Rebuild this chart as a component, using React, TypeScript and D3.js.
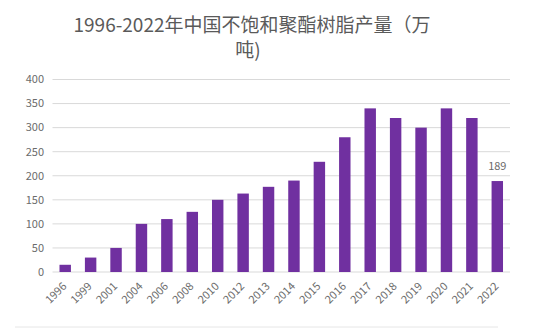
import React from "react";
import * as d3 from "d3";

const years = ["1996","1999","2001","2004","2006","2008","2010","2012","2013","2014","2015","2016","2017","2018","2019","2020","2021","2022"];
const values = [15,30,50,100,110,125,150,163,177,190,229,280,340,320,300,340,320,189];
const yTicks = [0,50,100,150,200,250,300,350,400];
const titleLines = ["1996-2022年中国不饱和聚酯树脂产量（万", "吨)"];
const labeled = ["2022"];

export default function App() {
  const W = 550, H = 330;
  const left = 52.5, right = 510, top = 79.5, bottom = 272;
  const x = d3.scaleBand().domain(years).range([left, right]).paddingInner(0.55).paddingOuter(0.275);
  const y = d3.scaleLinear().domain([0, 400]).range([bottom, top]);
  const font = "'Noto Sans CJK SC', 'Noto Sans', sans-serif";
  return (
    <svg width={W} height={H} style={{ position: "absolute", left: 0, top: 0, background: "#fff" }}>
      <rect width={W} height={H} fill="#fff" />
      {titleLines.map((t, i) => (
        <text key={i} x={i === 0 ? 252 : 248} y={i === 0 ? 32 : 57} textAnchor="middle" fontSize={19} fill="#5a5a5a" fontFamily={font}>{t}</text>
      ))}
      {yTicks.map(t => (
        <g key={t}>
          <line x1={left} x2={right} y1={y(t)} y2={y(t)} stroke="#d9d9d9" strokeWidth={1} />
          <text x={44} y={y(t)} dy="0.35em" textAnchor="end" fontSize={11} fill="#6b6b6b" fontFamily={font}>{t}</text>
        </g>
      ))}
      {years.map((yr, i) => (
        <rect key={yr} x={x(yr)} y={y(values[i])} width={x.bandwidth()} height={y(0) - y(values[i])} fill="#7030A0" />
      ))}
      {years.map(yr => {
        const cx = (x(yr) as number) + x.bandwidth() / 2 + 2;
        return (
          <text key={yr} transform={`translate(${cx},${287}) rotate(-45)`} textAnchor="end" fontSize={11} fill="#6b6b6b" fontFamily={font}>{yr}</text>
        );
      })}
      {years.map((yr, i) => labeled.includes(yr) ? (
        <text key={"l" + yr} x={(x(yr) as number) + x.bandwidth() / 2} y={y(values[i]) - 11} textAnchor="middle" fontSize={11} fill="#6b6b6b" fontFamily={font}>{values[i]}</text>
      ) : null)}
      <line x1={15} x2={498} y1={327} y2={327} stroke="#e6e6e6" strokeWidth={1} />
    </svg>
  );
}
